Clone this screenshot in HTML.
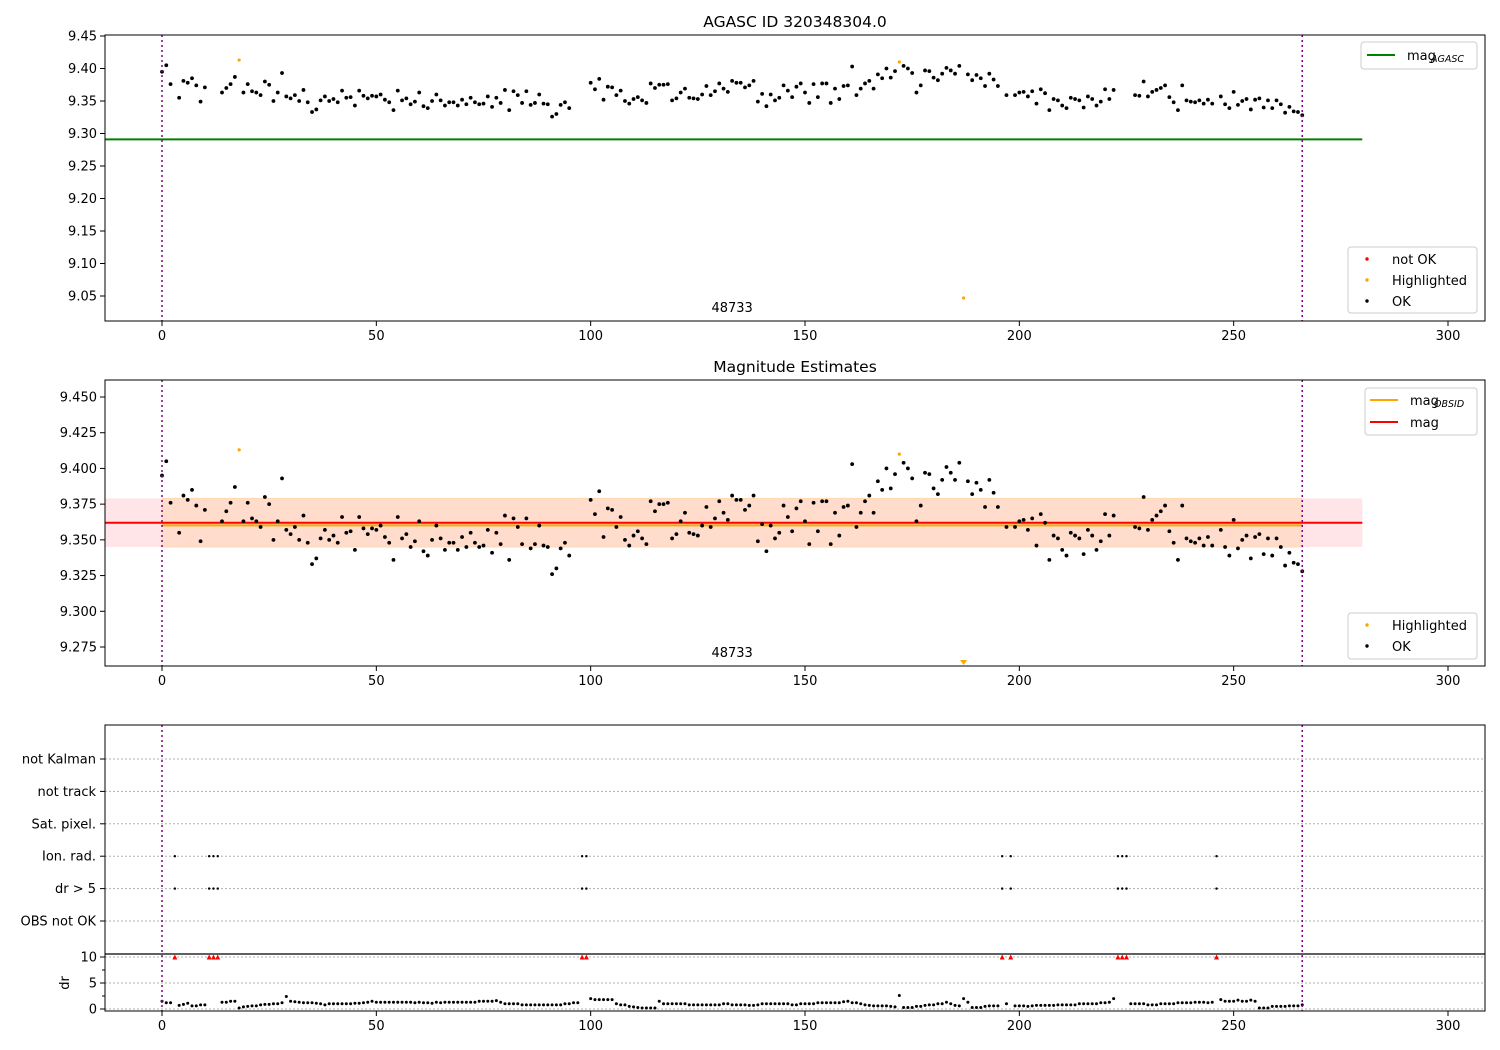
<!DOCTYPE html>
<html><head><meta charset="utf-8"><style>
body{margin:0;background:#fff;}
svg{display:block;font-family:"DejaVu Sans","Liberation Sans",sans-serif;}
</style></head><body>
<svg id="fig" width="1500" height="1050" xmlns="http://www.w3.org/2000/svg"></svg>
<script>
// ---- data ----
const magIdx = [0,1,2,4,5,6,7,8,9,10,14,15,16,17,18,19,20,21,22,23,24,25,26,27,28,29,30,31,32,33,34,35,36,37,38,39,40,41,42,43,44,45,46,47,48,49,50,51,52,53,54,55,56,57,58,59,60,61,62,63,64,65,66,67,68,69,70,71,72,73,74,75,76,77,78,79,80,81,82,83,84,85,86,87,88,89,90,91,92,93,94,95,100,101,102,103,104,105,106,107,108,109,110,111,112,113,114,115,116,117,118,119,120,121,122,123,124,125,126,127,128,129,130,131,132,133,134,135,136,137,138,139,140,141,142,143,144,145,146,147,148,149,150,151,152,153,154,155,156,157,158,159,160,161,162,163,164,165,166,167,168,169,170,171,172,173,174,175,176,177,178,179,180,181,182,183,184,185,186,187,188,189,190,191,192,193,194,195,197,199,200,201,202,203,204,205,206,207,208,209,210,211,212,213,214,215,216,217,218,219,220,221,222,227,228,229,230,231,232,233,234,235,236,237,238,239,240,241,242,243,244,245,247,248,249,250,251,252,253,254,255,256,257,258,259,260,261,262,263,264,265,266];
const magVals = [9.395,9.405,9.376,9.355,9.381,9.378,9.385,9.374,9.349,9.371,9.363,9.370,9.376,9.387,9.413,9.363,9.376,9.365,9.363,9.359,9.380,9.375,9.350,9.363,9.393,9.357,9.354,9.359,9.350,9.367,9.348,9.333,9.337,9.351,9.357,9.350,9.353,9.348,9.366,9.355,9.356,9.343,9.366,9.358,9.354,9.358,9.357,9.360,9.352,9.348,9.336,9.366,9.351,9.354,9.345,9.349,9.363,9.342,9.339,9.350,9.360,9.351,9.343,9.348,9.348,9.343,9.352,9.345,9.355,9.348,9.345,9.346,9.357,9.341,9.355,9.347,9.367,9.336,9.365,9.359,9.347,9.365,9.344,9.347,9.360,9.346,9.345,9.326,9.330,9.344,9.348,9.339,9.378,9.368,9.384,9.352,9.372,9.371,9.359,9.366,9.350,9.346,9.353,9.356,9.351,9.347,9.377,9.370,9.375,9.375,9.376,9.351,9.354,9.363,9.369,9.355,9.354,9.353,9.360,9.373,9.359,9.365,9.377,9.369,9.364,9.381,9.378,9.378,9.371,9.374,9.381,9.349,9.361,9.342,9.360,9.351,9.355,9.374,9.366,9.356,9.372,9.377,9.363,9.347,9.376,9.356,9.377,9.377,9.347,9.369,9.353,9.373,9.374,9.403,9.359,9.369,9.377,9.381,9.369,9.391,9.385,9.400,9.386,9.396,9.410,9.404,9.400,9.393,9.363,9.374,9.397,9.396,9.386,9.382,9.392,9.401,9.397,9.392,9.404,9.047,9.391,9.382,9.390,9.385,9.373,9.392,9.383,9.373,9.359,9.359,9.363,9.364,9.357,9.365,9.346,9.368,9.362,9.336,9.353,9.351,9.343,9.339,9.355,9.353,9.351,9.340,9.357,9.353,9.343,9.349,9.368,9.353,9.367,9.359,9.358,9.380,9.357,9.364,9.367,9.370,9.374,9.356,9.348,9.336,9.374,9.351,9.349,9.348,9.351,9.346,9.352,9.346,9.357,9.345,9.339,9.364,9.344,9.350,9.353,9.337,9.352,9.354,9.340,9.351,9.339,9.351,9.345,9.332,9.341,9.334,9.333,9.328];
const highlighted = [18,172,187];
const drVals = [1.5,1.2,1.2,12,0.7,0.9,1.1,0.6,0.6,0.8,
0.8,12,12,12,1.3,1.3,1.5,1.5,0.2,0.4,
0.5,0.6,0.6,0.8,0.9,0.9,1.0,1.0,1.2,2.4,
1.5,1.4,1.3,1.2,1.2,1.2,1.1,1.0,0.8,1.0,
1.0,1.0,1.0,1.0,1.0,1.1,1.1,1.2,1.3,1.5,
1.3,1.3,1.3,1.3,1.3,1.3,1.3,1.3,1.3,1.2,
1.3,1.2,1.2,1.1,1.3,1.2,1.3,1.3,1.3,1.3,
1.3,1.3,1.3,1.3,1.5,1.5,1.5,1.5,1.6,1.3,
1.0,1.0,1.0,1.0,0.8,0.8,0.8,0.8,0.8,0.8,
0.8,0.8,0.8,0.8,1.0,1.0,1.2,1.2,12,12,
2.0,1.8,1.8,1.8,1.8,1.8,1.0,0.8,0.8,0.5,
0.4,0.3,0.2,0.2,0.2,0.2,1.5,1.0,1.0,1.0,
1.0,1.0,1.0,0.8,0.8,0.8,0.8,0.8,0.8,0.8,
0.8,1.0,1.0,0.8,0.8,0.8,0.8,0.7,0.7,0.8,
1.0,1.0,1.0,1.0,1.0,1.0,1.0,0.8,0.8,1.0,
1.0,1.0,1.0,1.2,1.2,1.2,1.2,1.2,1.2,1.4,
1.5,1.2,1.2,1.0,0.8,0.7,0.6,0.6,0.6,0.6,
0.5,0.4,2.6,0.3,0.3,0.3,0.5,0.5,0.7,0.8,
0.8,1.0,1.0,1.3,1.0,0.7,0.6,2.0,1.3,0.3,
0.3,0.3,0.5,0.6,0.6,0.6,12,1.0,12,0.6,
0.6,0.6,0.5,0.6,0.7,0.7,0.7,0.7,0.7,0.8,
0.8,0.8,0.8,0.8,1.0,1.0,1.0,1.0,1.0,1.2,
1.2,1.3,2.0,12,12,12,1.0,1.0,1.0,1.0,
0.8,0.8,0.8,1.0,1.0,1.0,1.0,1.2,1.2,1.2,
1.2,1.3,1.3,1.3,1.2,1.3,12,1.8,1.5,1.5,
1.5,1.7,1.5,1.5,1.7,1.5,0.2,0.2,0.2,0.5,
0.5,0.5,0.5,0.6,0.6,0.6,0.8];
const flagIdx = [3,11,12,13,98,99,196,198,223,224,225,246];
const categories = ["OBS not OK","dr > 5","Ion. rad.","Sat. pixel.","not track","not Kalman"];
const xTicks = [0,50,100,150,200,250,300];
const y1Ticks = [9.05,9.10,9.15,9.20,9.25,9.30,9.35,9.40,9.45];
const y2Ticks = [9.275,9.300,9.325,9.350,9.375,9.400,9.425,9.450];
const drTicks = [0,5,10];
const magAgasc = 9.291, magMean = 9.362, magObsid = 9.3612, magLo = 9.345, magHi = 9.379;
const obsStart = 0, obsEnd = 266, obsidLabel = "48733", obsidLabelX = 133, lineEnd = 280;

// ---- helpers ----
const NS="http://www.w3.org/2000/svg", svg=document.getElementById('fig');
function el(tag,attrs,parent){const e=document.createElementNS(NS,tag);for(const k in attrs)e.setAttribute(k,attrs[k]);(parent||svg).appendChild(e);return e;}
function txt(s,attrs,parent){const e=el('text',attrs,parent);e.textContent=s;return e;}
const L=105,R=1485;
const X = v => 162 + v*(1448-162)/300;
const Y1 = v => 36 + (9.45-v)*650;
const Y2 = v => 397 + (9.45-v)*(250/0.175);
const Ycat = i => 921 - i*(921-759)/5;
const Ydr = v => 1009 - v*5.2;
const clipDR = v => Math.min(v,10);

function frame(top,bot,name){
  const g=el('g',{});
  
  
  xTicks.forEach(t=>{
    el('line',{x1:X(t),x2:X(t),y1:bot,y2:bot+5,stroke:'#000'},g);
    const tl=txt(String(t),{x:X(t),y:bot+19,'font-size':13,'text-anchor':'middle'},g);
    
    
  });
  return g;
}
function border(top,bot){el('rect',{x:L,y:top,width:R-L,height:bot-top,fill:'none',stroke:'#000','stroke-width':1});}
function vlines(top,bot){[obsStart,obsEnd].forEach(v=>{const l=el('line',{x1:X(v),x2:X(v),y1:top,y2:bot,stroke:'#800080','stroke-width':1.5,'stroke-dasharray':'2,3'});});}
function yTicks(ticks,Y,fmt,g){ticks.forEach(t=>{el('line',{x1:L-5,x2:L,y1:Y(t),y2:Y(t),stroke:'#000'},g);const e=txt(fmt(t),{x:L-8,y:Y(t)+4.5,'font-size':13,'text-anchor':'end'},g);});}

// ---- panel 1 ----
const p1T=35,p1B=321;
frame(p1T,p1B,'agasc-panel-axes');
yTicks(y1Ticks,Y1,t=>t.toFixed(2));
const t1=txt('AGASC ID 320348304.0',{x:795,y:27,'font-size':15.5,'text-anchor':'middle'});

const gl=el('line',{x1:L,x2:X(lineEnd),y1:Y1(magAgasc),y2:Y1(magAgasc),stroke:'#008000','stroke-width':2});

magIdx.forEach((ix,i)=>{const v=magVals[i];const hl=highlighted.includes(ix);
  const c=el('circle',{cx:X(ix),cy:Y1(v),r:hl?1.6:1.9,fill:hl?'#ffa500':'#000'});
  });
vlines(p1T,p1B);
txt(obsidLabel,{x:X(obsidLabelX),y:312,'font-size':13,'text-anchor':'middle'});
border(p1T,p1B);
// legends
let lg=el('g',{});
el('rect',{x:1361,y:42,width:116,height:27,rx:3,fill:'#fff',stroke:'#ccc'},lg);
el('line',{x1:1367,x2:1395,y1:55,y2:55,stroke:'#008000','stroke-width':2},lg);
txt('mag',{x:1407,y:60,'font-size':13},lg);txt('AGASC',{x:1431,y:62,'font-size':9.5,'font-style':'italic'},lg);
lg=el('g',{});
el('rect',{x:1348,y:247,width:129,height:66,rx:3,fill:'#fff',stroke:'#ccc'},lg);
[['not OK','#f00',259],['Highlighted','#ffa500',280],['OK','#000',301]].forEach(([n,c,y])=>{el('circle',{cx:1367,cy:y,r:1.7,fill:c},lg);txt(n,{x:1392,y:y+5,'font-size':13},lg);});

// ---- panel 2 ----
const p2T=380,p2B=666;
frame(p2T,p2B,'estimates-panel-axes');
yTicks(y2Ticks,Y2,t=>t.toFixed(3));
const t2=txt('Magnitude Estimates',{x:795,y:372,'font-size':15.5,'text-anchor':'middle'});

const band=el('rect',{x:L,y:Y2(magHi),width:X(lineEnd)-L,height:Y2(magLo)-Y2(magHi),fill:'#ffe4e8'});

const band2=el('rect',{x:X(obsStart),y:Y2(magHi),width:X(obsEnd)-X(obsStart),height:Y2(magLo)-Y2(magHi),fill:'#ffdccb'});

el('line',{x1:X(obsStart),x2:X(obsEnd),y1:Y2(magHi),y2:Y2(magHi),stroke:'#ffd8b0','stroke-width':1});
el('line',{x1:X(obsStart),x2:X(obsEnd),y1:Y2(magLo),y2:Y2(magLo),stroke:'#ffd8b0','stroke-width':1});
const ol=el('line',{x1:X(obsStart),x2:X(obsEnd),y1:Y2(magObsid)+1.5,y2:Y2(magObsid)+1.5,stroke:'#ffa500','stroke-width':2});

const rl=el('line',{x1:L,x2:X(lineEnd),y1:Y2(magMean),y2:Y2(magMean),stroke:'#f00','stroke-width':2});

magIdx.forEach((ix,i)=>{const v=magVals[i];const hl=highlighted.includes(ix);
  if(v<9.2617){const tri=el('path',{d:`M${X(ix)-3.5},${p2B-6} L${X(ix)+3.5},${p2B-6} L${X(ix)},${p2B-1} Z`,fill:'#ffa500'});
    return;}
  const c=el('circle',{cx:X(ix),cy:Y2(v),r:hl?1.6:1.9,fill:hl?'#ffa500':'#000'});
  });
vlines(p2T,p2B);
txt(obsidLabel,{x:X(obsidLabelX),y:657,'font-size':13,'text-anchor':'middle'});
border(p2T,p2B);
lg=el('g',{});
el('rect',{x:1365,y:388,width:112,height:47,rx:3,fill:'#fff',stroke:'#ccc'},lg);
el('line',{x1:1370,x2:1398,y1:400,y2:400,stroke:'#ffa500','stroke-width':2},lg);
txt('mag',{x:1410,y:405,'font-size':13},lg);txt('OBSID',{x:1434,y:407,'font-size':9.5,'font-style':'italic'},lg);
el('line',{x1:1370,x2:1398,y1:422,y2:422,stroke:'#f00','stroke-width':2},lg);
txt('mag',{x:1410,y:427,'font-size':13},lg);
lg=el('g',{});
el('rect',{x:1348,y:613,width:129,height:46,rx:3,fill:'#fff',stroke:'#ccc'},lg);
[['Highlighted','#ffa500',625],['OK','#000',646]].forEach(([n,c,y])=>{el('circle',{cx:1367,cy:y,r:1.7,fill:c},lg);txt(n,{x:1392,y:y+5,'font-size':13},lg);});

// ---- panel 3 ----
const p3T=725,p3B=1011;
frame(p3T,p3B,'flags-panel-axes');
categories.forEach((c,i)=>{const y=Ycat(i);
  el('line',{x1:L,x2:R,y1:y,y2:y,stroke:'#b0b0b0','stroke-dasharray':'2,2'});
  el('line',{x1:L-5,x2:L,y1:y,y2:y,stroke:'#000'});
  const e=txt(c,{x:L-9,y:y+4.5,'font-size':13,'text-anchor':'end'});});
drTicks.forEach(t=>{el('line',{x1:L,x2:R,y1:Ydr(t),y2:Ydr(t),stroke:'#b0b0b0','stroke-dasharray':'2,2'});});
yTicks(drTicks,Ydr,t=>String(t));
[2.5,7.5].forEach(t=>el('line',{x1:L-3,x2:L,y1:Ydr(t),y2:Ydr(t),stroke:'#000'}));
el('line',{x1:L,x2:R,y1:954,y2:954,stroke:'#000','stroke-width':1.2});
const drl=txt('dr',{x:0,y:0,'font-size':13,'text-anchor':'middle',transform:'translate(69,983) rotate(-90)'});

flagIdx.forEach(ix=>{[1,2].forEach(ci=>{const c=el('circle',{cx:X(ix),cy:Ycat(ci),r:1.2,fill:'#000'});
  });});
drVals.forEach((v,ix)=>{
  if(v>10){const x=X(ix),y=Ydr(10);const tri=el('path',{d:`M${x-2.5},${y+2.5} L${x+2.5},${y+2.5} L${x},${y-2.5} Z`,fill:'#f00'});
    return;}
  const c=el('circle',{cx:X(ix),cy:Ydr(clipDR(v)),r:1.5,fill:'#000'});
  });
vlines(p3T,p3B);
border(p3T,p3B);
</script>
</body></html>
